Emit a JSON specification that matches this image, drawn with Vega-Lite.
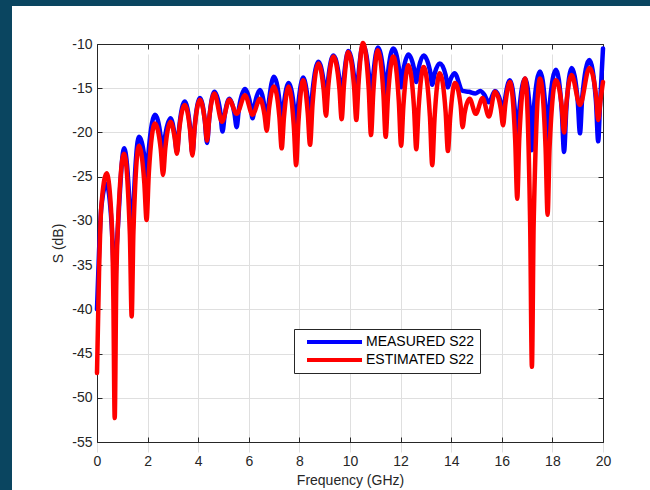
{
  "$schema": "https://vega.github.io/schema/vega-lite/v6.json",
  "width": 638,
  "height": 484,
  "autosize": {"type": "none"},
  "padding": {"left": 12, "top": 6, "right": 0, "bottom": 0},
  "background": "#0a4560",
  "config": {"view": {"fill": "white", "stroke": null}, "font": "Liberation Sans"},
  "datasets": {
    "measured": [
      {"f":0,"s":-40},{"f":0.08,"s":-33.5},{"f":0.17,"s":-28.5},{"f":0.37,"s":-25.8},{"f":0.58,"s":-30.5},{"f":0.645,"s":-35},{"f":0.70,"s":-40},{"f":0.76,"s":-34},{"f":0.82,"s":-31},
      {"f":1.07,"s":-21.8},{"f":1.30,"s":-29},{"f":1.37,"s":-34},{"f":1.44,"s":-28.5},{"f":1.66,"s":-20.5},{"f":1.87,"s":-22.7},{"f":1.96,"s":-25.0},{"f":2.05,"s":-21.8},
      {"f":2.29,"s":-18.0},{"f":2.52,"s":-20.5},{"f":2.61,"s":-23.0},{"f":2.70,"s":-20.3},{"f":2.91,"s":-18.4},{"f":3.07,"s":-20.3},{"f":3.16,"s":-22.2},{"f":3.25,"s":-19.4},
      {"f":3.47,"s":-16.5},{"f":3.68,"s":-19.5},{"f":3.77,"s":-22.4},{"f":3.86,"s":-19.3},{"f":4.07,"s":-16.1},{"f":4.26,"s":-18.6},{"f":4.35,"s":-21.2},{"f":4.44,"s":-18.3},
      {"f":4.64,"s":-15.4},{"f":4.87,"s":-17.6},{"f":4.96,"s":-19.9},{"f":5.05,"s":-18.0},{"f":5.23,"s":-16.2},{"f":5.43,"s":-17.8},{"f":5.52,"s":-19.4},{"f":5.61,"s":-17.3},
      {"f":5.85,"s":-15.1},{"f":6.06,"s":-16.8},{"f":6.15,"s":-18.4},{"f":6.24,"s":-16.8},{"f":6.44,"s":-15.2},{"f":6.62,"s":-17.1},{"f":6.71,"s":-19.0},{"f":6.80,"s":-16.4},
      {"f":6.99,"s":-13.7},{"f":7.21,"s":-16.4},{"f":7.30,"s":-19.0},{"f":7.39,"s":-16.7},{"f":7.57,"s":-14.4},{"f":7.78,"s":-17.0},{"f":7.87,"s":-19.5},{"f":7.96,"s":-16.7},
      {"f":8.15,"s":-13.8},{"f":8.33,"s":-16.2},{"f":8.42,"s":-18.5},{"f":8.52,"s":-15.3},{"f":8.75,"s":-12.0},{"f":8.96,"s":-14.3},{"f":9.05,"s":-16.5},{"f":9.14,"s":-13.9},
      {"f":9.34,"s":-11.3},{"f":9.58,"s":-14.0},{"f":9.67,"s":-16.5},{"f":9.76,"s":-13.7},{"f":9.93,"s":-10.8},{"f":10.16,"s":-13.7},{"f":10.25,"s":-16.5},{"f":10.34,"s":-13.3},
      {"f":10.51,"s":-10.1},{"f":10.74,"s":-13.3},{"f":10.83,"s":-16.5},{"f":10.92,"s":-13.5},{"f":11.10,"s":-10.4},{"f":11.32,"s":-13.2},{"f":11.41,"s":-16.0},{"f":11.50,"s":-13.3},
      {"f":11.71,"s":-10.5},{"f":11.93,"s":-12.7},{"f":12.02,"s":-14.9},{"f":12.11,"s":-13.0},{"f":12.31,"s":-11.2},{"f":12.53,"s":-12.8},{"f":12.62,"s":-14.3},{"f":12.71,"s":-12.8},
      {"f":12.91,"s":-11.3},{"f":13.16,"s":-13.0},{"f":13.25,"s":-14.6},{"f":13.34,"s":-13.4},{"f":13.55,"s":-12.2},{"f":13.78,"s":-13.5},{"f":13.87,"s":-14.9},{"f":13.96,"s":-14.1},
      {"f":14.13,"s":-13.3},{"f":14.45,"s":-15.3},{"f":14.70,"s":-15.4},{"f":14.95,"s":-15.6},{"f":15.15,"s":-15.3},{"f":15.30,"s":-15.7},{"f":15.49,"s":-16.6},{"f":15.73,"s":-15.3},
      {"f":15.96,"s":-16.6},{"f":16.05,"s":-18.0},{"f":16.14,"s":-16.0},{"f":16.32,"s":-14.1},{"f":16.53,"s":-18.0},{"f":16.61,"s":-21.5},{"f":16.69,"s":-17.6},{"f":16.92,"s":-13.9},
      {"f":17.12,"s":-18.0},{"f":17.19,"s":-22.0},{"f":17.26,"s":-17.5},{"f":17.51,"s":-13.1},{"f":17.73,"s":-17.5},{"f":17.81,"s":-21.5},{"f":17.89,"s":-17.0},{"f":18.14,"s":-12.9},
      {"f":18.37,"s":-17.5},{"f":18.46,"s":-22.2},{"f":18.55,"s":-17.4},{"f":18.76,"s":-12.7},{"f":19.00,"s":-16.4},{"f":19.09,"s":-20.1},{"f":19.18,"s":-16.0},{"f":19.46,"s":-11.8},
      {"f":19.72,"s":-16.4},{"f":19.81,"s":-21.0},{"f":19.88,"s":-17.0},{"f":20.0,"s":-10.5}
    ],
    "estimated": [
      {"f":0,"s":-47.2},{"f":0.08,"s":-35.9},{"f":0.17,"s":-28.4},{"f":0.38,"s":-24.6},{"f":0.58,"s":-30.0},{"f":0.645,"s":-38.5},{"f":0.70,"s":-52.3},{"f":0.76,"s":-37.4},{"f":0.82,"s":-31.0},
      {"f":1.07,"s":-22.4},{"f":1.30,"s":-31.6},{"f":1.37,"s":-40.8},{"f":1.44,"s":-31.2},{"f":1.66,"s":-21.5},{"f":1.87,"s":-25.7},{"f":1.96,"s":-29.9},{"f":2.05,"s":-24.5},
      {"f":2.29,"s":-19.0},{"f":2.52,"s":-21.9},{"f":2.61,"s":-24.8},{"f":2.70,"s":-21.8},{"f":2.91,"s":-18.8},{"f":3.07,"s":-20.6},{"f":3.16,"s":-22.4},{"f":3.25,"s":-19.7},
      {"f":3.47,"s":-16.9},{"f":3.68,"s":-19.8},{"f":3.77,"s":-22.6},{"f":3.86,"s":-19.5},{"f":4.07,"s":-16.3},{"f":4.26,"s":-18.6},{"f":4.35,"s":-20.9},{"f":4.44,"s":-18.3},
      {"f":4.64,"s":-15.6},{"f":4.94,"s":-18.8},{"f":5.23,"s":-16.3},{"f":5.52,"s":-17.9},{"f":5.85,"s":-15.8},{"f":6.15,"s":-18.0},{"f":6.44,"s":-16.2},{"f":6.62,"s":-18.0},
      {"f":6.71,"s":-19.8},{"f":6.80,"s":-17.3},{"f":6.99,"s":-14.8},{"f":7.21,"s":-18.3},{"f":7.30,"s":-21.8},{"f":7.39,"s":-18.3},{"f":7.57,"s":-14.8},{"f":7.78,"s":-19.3},
      {"f":7.87,"s":-23.7},{"f":7.96,"s":-18.9},{"f":8.15,"s":-14.1},{"f":8.33,"s":-17.8},{"f":8.42,"s":-21.4},{"f":8.52,"s":-16.8},{"f":8.75,"s":-12.2},{"f":8.96,"s":-15.2},
      {"f":9.05,"s":-18.1},{"f":9.14,"s":-14.8},{"f":9.34,"s":-11.4},{"f":9.58,"s":-15.0},{"f":9.67,"s":-18.5},{"f":9.76,"s":-14.7},{"f":9.93,"s":-10.9},{"f":10.16,"s":-14.8},
      {"f":10.25,"s":-18.6},{"f":10.34,"s":-14.3},{"f":10.51,"s":-9.9},{"f":10.74,"s":-15.1},{"f":10.83,"s":-20.3},{"f":10.92,"s":-15.5},{"f":11.10,"s":-10.7},{"f":11.32,"s":-15.6},
      {"f":11.41,"s":-20.5},{"f":11.50,"s":-16.0},{"f":11.71,"s":-11.4},{"f":11.93,"s":-16.5},{"f":12.02,"s":-21.5},{"f":12.11,"s":-17.0},{"f":12.31,"s":-12.4},{"f":12.53,"s":-17.2},
      {"f":12.62,"s":-21.9},{"f":12.71,"s":-17.3},{"f":12.91,"s":-12.6},{"f":13.16,"s":-18.2},{"f":13.25,"s":-23.7},{"f":13.34,"s":-18.5},{"f":13.55,"s":-13.3},{"f":13.78,"s":-17.7},
      {"f":13.87,"s":-22.1},{"f":13.96,"s":-18.3},{"f":14.15,"s":-14.4},{"f":14.37,"s":-16.9},{"f":14.45,"s":-19.4},{"f":14.53,"s":-17.8},{"f":14.73,"s":-16.2},{"f":14.97,"s":-17.9},
      {"f":15.24,"s":-16.1},{"f":15.49,"s":-18.2},{"f":15.73,"s":-15.4},{"f":15.96,"s":-17.3},{"f":16.05,"s":-19.2},{"f":16.14,"s":-16.8},{"f":16.32,"s":-14.3},{"f":16.53,"s":-20.9},
      {"f":16.61,"s":-27.5},{"f":16.69,"s":-20.7},{"f":16.92,"s":-13.9},{"f":17.12,"s":-30.2},{"f":17.19,"s":-46.5},{"f":17.26,"s":-30.2},{"f":17.51,"s":-13.9},{"f":17.73,"s":-21.7},
      {"f":17.81,"s":-29.3},{"f":17.89,"s":-21.6},{"f":18.14,"s":-14.1},{"f":18.37,"s":-17.1},{"f":18.46,"s":-20.0},{"f":18.55,"s":-16.8},{"f":18.76,"s":-13.5},{"f":19.09,"s":-16.9},
      {"f":19.46,"s":-12.7},{"f":19.72,"s":-15.7},{"f":19.81,"s":-18.6},{"f":19.90,"s":-16.4},{"f":20.0,"s":-14.3}
    ]
  },
  "layer": [
    {
      "data": {"name": "measured"},
      "mark": {"type": "line", "strokeWidth": 4.5, "interpolate": "monotone", "strokeJoin": "round", "strokeCap": "round"},
      "encoding": {
        "x": {"field": "f", "type": "quantitative",
          "scale": {"domain": [0, 20], "range": [85, 591], "nice": false, "zero": false},
          "axis": {"orient": "bottom", "offset": -48, "values": [0,2,4,6,8,10,12,14,16,18,20], "tickSize": -5, "tickColor": "#262626", "domainColor": "#262626", "labelColor": "#262626", "labelFontSize": 14, "labelPadding": 17, "labelFlush": false, "labelOverlap": false, "grid": true, "gridColor": "#dfdfdf", "title": "Frequency (GHz)", "titleFontSize": 14, "titleFontWeight": "normal", "titleColor": "#262626", "titleY": 38, "titleBaseline": "middle"}},
        "y": {"field": "s", "type": "quantitative",
          "scale": {"domain": [-55, -10], "range": [436, 38], "nice": false, "zero": false},
          "axis": {"orient": "left", "offset": -85, "values": [-55,-50,-45,-40,-35,-30,-25,-20,-15,-10], "labelExpr": "replace(datum.label, '\u2212', '-')", "tickSize": -5, "tickColor": "#262626", "domainColor": "#262626", "labelColor": "#262626", "labelFontSize": 14, "labelPadding": 10, "labelFlush": false, "labelOverlap": false, "grid": true, "gridColor": "#dfdfdf", "title": "S (dB)", "titleFontSize": 14, "titleFontWeight": "normal", "titleColor": "#262626", "titleX": -39, "titleBaseline": "middle"}},
        "color": {"datum": "MEASURED S22", "type": "nominal",
          "scale": {"domain": ["MEASURED S22", "ESTIMATED S22"], "range": ["#0000ff", "#ff0000"]},
          "legend": {"orient": "none", "legendX": 282, "legendY": 323, "title": null, "fillColor": "white", "strokeColor": "#262626", "padding": 5, "symbolType": "M0,0H9.17", "symbolSize": 144, "symbolStrokeWidth": 4, "labelOffset": 51, "labelFontSize": 14, "labelColor": "#000000", "rowPadding": 2}}
      }
    },
    {
      "data": {"name": "estimated"},
      "mark": {"type": "line", "strokeWidth": 4.5, "interpolate": "monotone", "strokeJoin": "round", "strokeCap": "round"},
      "encoding": {
        "x": {"field": "f", "type": "quantitative",
          "scale": {"domain": [0, 20], "range": [85, 591], "nice": false, "zero": false},
          "axis": {"orient": "top", "offset": -38, "values": [0,2,4,6,8,10,12,14,16,18,20], "tickSize": -5, "tickColor": "#262626", "domainColor": "#262626", "labels": false, "grid": false, "title": null}},
        "y": {"field": "s", "type": "quantitative",
          "scale": {"domain": [-55, -10], "range": [436, 38], "nice": false, "zero": false},
          "axis": {"orient": "right", "offset": -47, "values": [-55,-50,-45,-40,-35,-30,-25,-20,-15,-10], "tickSize": -5, "tickColor": "#262626", "domainColor": "#262626", "labels": false, "grid": false, "title": null}},
        "color": {"datum": "ESTIMATED S22", "type": "nominal"}
      }
    }
  ],
  "resolve": {"axis": {"x": "independent", "y": "independent"}}
}
